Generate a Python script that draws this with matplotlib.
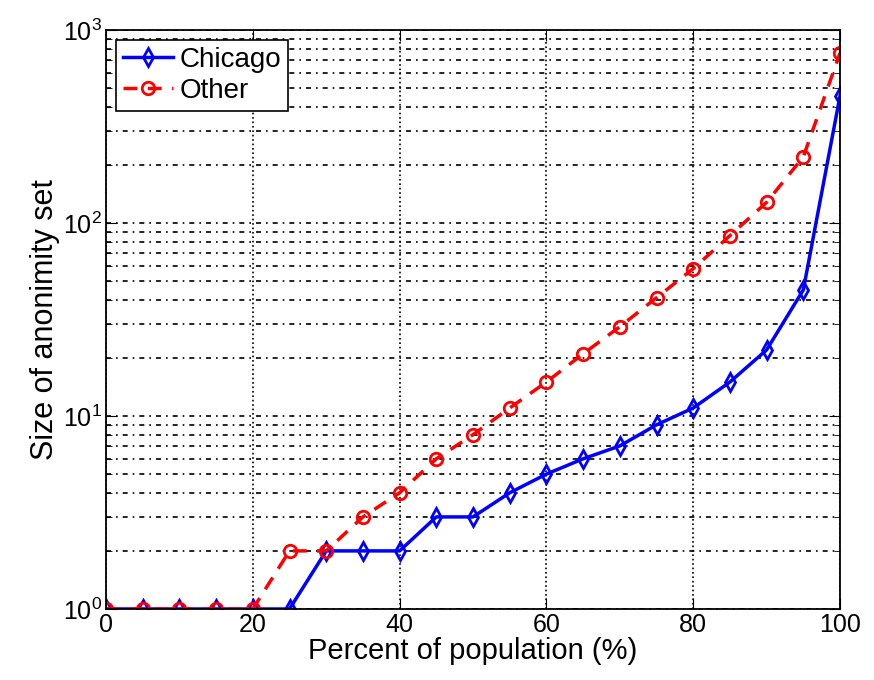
import matplotlib
matplotlib.use('Agg')
import matplotlib.pyplot as plt
from matplotlib.ticker import LogLocator, NullFormatter

plt.rcParams['font.family'] = ['Liberation Sans', 'DejaVu Sans']
plt.rcParams['mathtext.fontset'] = 'custom'
plt.rcParams['mathtext.rm'] = 'Liberation Sans'

pct = [0, 5, 10, 15, 20, 25, 30, 35, 40, 45, 50, 55, 60, 65, 70, 75, 80, 85, 90, 95, 100]
chicago = [1, 1, 1, 1, 1, 1, 2, 2, 2, 3, 3, 4, 5, 6, 7, 9, 11, 15, 22, 45, 455]
other = [1, 1, 1, 1, 1, 2, 2, 3, 4, 6, 8, 11, 15, 21, 29, 41, 58, 86, 128, 220, 760]

fig = plt.figure(figsize=(8.74, 6.8), dpi=100)
ax = fig.add_axes([106 / 874, 1 - 609 / 680, (840 - 106) / 874, (609 - 30) / 680])

ax.plot(pct, chicago, color='blue', lw=2.5, marker='d', ms=9, mfc='none', mew=2, label='Chicago')
ax.plot(pct, other, color='red', lw=2.5, ls='--', dashes=(4, 3), marker='o', ms=9, mfc='none', mew=2,
        label='Other')

ax.set_yscale('log')
ax.set_xlim(0, 100)
ax.set_ylim(1, 1000)
ax.set_xticks([0, 20, 40, 60, 80, 100])
ax.yaxis.set_major_locator(LogLocator(base=10))
ax.yaxis.set_minor_locator(LogLocator(base=10, subs=range(2, 10)))
ax.yaxis.set_minor_formatter(NullFormatter())

ax.grid(True, which='major', axis='x', color='black', ls=':', lw=1.2)
ax.grid(True, which='both', axis='y', color='black', ls=(0, (3, 3, 1, 3)), lw=1.2)

ax.tick_params(which='both', direction='in', top=True, right=True, labelsize=18)
ax.tick_params(which='major', length=8, pad=3)
ax.tick_params(which='minor', length=4)
for s in ax.spines.values():
    s.set_linewidth(1.3)

ax.set_xlabel('Percent of population (%)', fontsize=21, labelpad=0)
ax.set_ylabel('Size of anonimity set', fontsize=22, labelpad=2)

leg = ax.legend(loc='upper left', fontsize=20, fancybox=False, edgecolor='black', framealpha=1,
                handlelength=1.8, handletextpad=0.25, borderpad=0.25, labelspacing=0.2,
                borderaxespad=0.35)
leg.get_frame().set_linewidth(1.2)

fig.savefig('out.png', dpi=100)
